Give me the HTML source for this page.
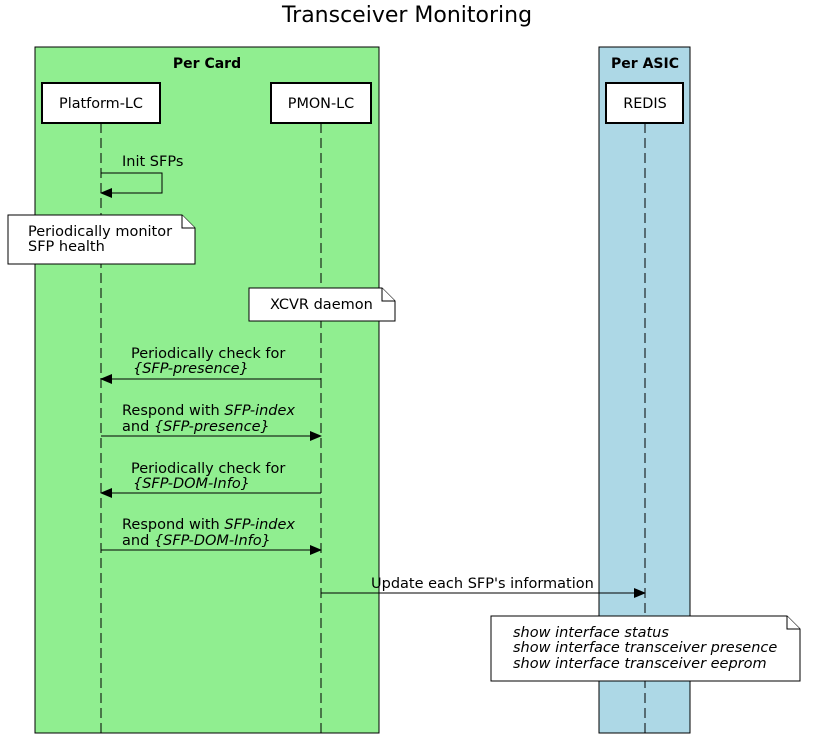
<!DOCTYPE html>
<html><head><meta charset="utf-8"><style>
html,body{margin:0;padding:0;background:#fff}
svg{display:block;font-family:"DejaVu Sans","Liberation Sans",sans-serif}
</style></head><body>
<svg width="815" height="741" viewBox="0 0 815 741" xmlns="http://www.w3.org/2000/svg">
<defs><marker id="a" markerWidth="12" markerHeight="10" refX="11" refY="5" orient="auto" markerUnits="userSpaceOnUse"><path d="M0,0 L12,5 L0,10 Z" fill="#000"/></marker></defs>
<text x="407" y="22" font-size="22" text-anchor="middle">Transceiver Monitoring</text>
<rect x="35" y="47" width="344" height="686" fill="#90ee90" stroke="#000"/>
<rect x="599" y="47" width="91" height="686" fill="#add8e6" stroke="#000"/>
<text x="207" y="68" font-size="14" font-weight="bold" text-anchor="middle">Per Card</text>
<text x="645" y="68" font-size="14" font-weight="bold" text-anchor="middle">Per ASIC</text>
<g stroke="#000" stroke-dasharray="10,5" fill="none">
<line x1="101" y1="123" x2="101" y2="733"/>
<line x1="321" y1="123" x2="321" y2="733"/>
<line x1="645" y1="123" x2="645" y2="733"/>
</g>
<g fill="#fff" stroke="#000" stroke-width="2">
<rect x="42" y="83" width="118" height="40"/>
<rect x="271" y="83" width="100" height="40"/>
<rect x="606" y="83" width="77" height="40"/>
</g>
<g font-size="14.4" text-anchor="middle">
<text x="101" y="108">Platform-LC</text>
<text x="321" y="108">PMON-LC</text>
<text x="645" y="108">REDIS</text>
</g>
<g stroke="#000" fill="none">
<polyline points="101,173 162,173 162,193 101,193" marker-end="url(#a)"/>
<line x1="321" y1="379" x2="101" y2="379" marker-end="url(#a)"/>
<line x1="101" y1="436" x2="321" y2="436" marker-end="url(#a)"/>
<line x1="321" y1="493" x2="101" y2="493" marker-end="url(#a)"/>
<line x1="101" y1="550" x2="321" y2="550" marker-end="url(#a)"/>
<line x1="321" y1="593" x2="645" y2="593" marker-end="url(#a)"/>
</g>
<g fill="#fff" stroke="#000">
<path d="M8,215 H182 L195,228 V264 H8 Z"/><path d="M182,215 V228 H195"/>
<path d="M249,288 H382 L395,301 V321 H249 Z"/><path d="M382,288 V301 H395"/>
<path d="M491,616 H787 L800,629 V681 H491 Z"/><path d="M787,616 V629 H800"/>
</g>
<g font-size="14.5">
<text x="122" y="166">Init SFPs</text>
<text x="28" y="236">Periodically monitor</text>
<text x="28" y="251">SFP health</text>
<text x="270" y="309">XCVR daemon</text>
<text x="131" y="358">Periodically check for</text>
<text x="133" y="373" font-style="italic">{SFP-presence}</text>
<text x="122" y="415">Respond with <tspan font-style="italic">SFP-index</tspan></text>
<text x="122" y="431">and <tspan font-style="italic">{SFP-presence}</tspan></text>
<text x="131" y="473">Periodically check for</text>
<text x="133" y="488" font-style="italic">{SFP-DOM-Info}</text>
<text x="122" y="529">Respond with <tspan font-style="italic">SFP-index</tspan></text>
<text x="122" y="545">and <tspan font-style="italic">{SFP-DOM-Info}</tspan></text>
<text x="371" y="588">Update each SFP's information</text>
<g font-style="italic">
<text x="513" y="637">show interface status</text>
<text x="513" y="652">show interface transceiver presence</text>
<text x="513" y="668">show interface transceiver eeprom</text>
</g>
</g>
</svg>
</body></html>
